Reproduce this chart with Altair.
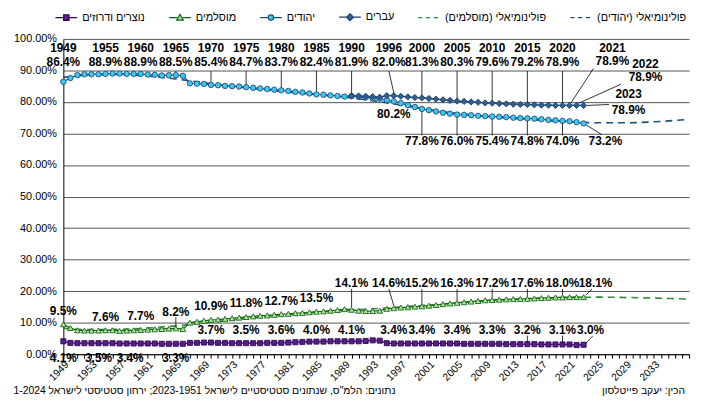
import altair as alt
import pandas as pd

# ---------------- data ----------------
years = list(range(1949, 2024))
jews = [86.4, 87.6, 88.5, 88.8, 88.8, 88.8, 88.9, 89.0, 89.0, 88.9,
        88.9, 88.9, 88.7, 88.6, 88.4, 88.5, 88.5, 88.3, 85.9, 85.8,
        85.7, 85.4, 85.3, 85.1, 85.0, 84.9, 84.7, 84.5, 84.3, 84.1,
        83.9, 83.7, 83.5, 83.2, 83.0, 82.7, 82.4, 82.3, 82.1, 81.9,
        81.7, 81.9, 81.6, 81.4, 81.2, 81.0, 80.6, 80.2, 79.6, 79.0,
        78.4, 77.8, 77.4, 77.0, 76.6, 76.3, 76.0, 75.9, 75.8, 75.6,
        75.5, 75.4, 75.3, 75.2, 75.0, 74.9, 74.8, 74.7, 74.5, 74.3,
        74.2, 74.0, 73.9, 73.6, 73.2]
hebrews_years = list(range(1990, 2024))
hebrews = [81.9, 81.9, 81.8, 81.7, 81.5, 82.0, 82.0, 81.8, 81.6, 81.4,
           81.3, 81.1, 80.9, 80.7, 80.5, 80.3, 80.2, 80.0, 79.9, 79.7,
           79.6, 79.5, 79.4, 79.3, 79.2, 79.2, 79.1, 79.0, 79.0, 78.9,
           78.9, 78.9, 78.9, 78.9]
muslims = [9.5, 8.3, 7.6, 7.5, 7.5, 7.5, 7.6, 7.6, 7.4, 7.5,
           7.6, 7.7, 7.8, 7.9, 8.0, 8.1, 8.2, 8.0, 10.0, 10.3,
           10.6, 10.9, 11.0, 11.2, 11.4, 11.6, 11.8, 12.0, 12.2, 12.3,
           12.5, 12.7, 12.8, 13.0, 13.1, 13.3, 13.5, 13.6, 13.8, 14.0,
           14.3, 14.1, 13.8, 13.7, 13.7, 13.8, 14.4, 14.6, 14.8, 14.9,
           15.1, 15.2, 15.4, 15.6, 15.9, 16.1, 16.3, 16.5, 16.7, 16.9,
           17.1, 17.2, 17.3, 17.4, 17.5, 17.5, 17.6, 17.7, 17.8, 17.9,
           18.0, 18.0, 18.1, 18.1, 18.1]
christians = [4.1, 3.6, 3.5, 3.5, 3.5, 3.5, 3.5, 3.5, 3.4, 3.4,
              3.4, 3.4, 3.4, 3.4, 3.3, 3.3, 3.3, 3.3, 3.6, 3.6,
              3.7, 3.7, 3.6, 3.6, 3.5, 3.5, 3.5, 3.5, 3.5, 3.6,
              3.6, 3.6, 3.7, 3.8, 3.9, 4.0, 4.0, 4.0, 4.1, 4.1,
              4.1, 4.1, 4.1, 4.2, 4.4, 4.3, 3.5, 3.4, 3.4, 3.4,
              3.4, 3.4, 3.4, 3.4, 3.4, 3.4, 3.4, 3.3, 3.3, 3.3,
              3.3, 3.3, 3.3, 3.2, 3.2, 3.2, 3.2, 3.2, 3.1, 3.1,
              3.1, 3.1, 3.1, 2.9, 3.0]

trend_years = [1949, 1953, 1957, 1961, 1965, 1969, 1973, 1977, 1981, 1985, 1989, 1993,
               1997, 2001, 2005, 2009, 2013, 2017, 2021, 2025, 2029, 2033, 2038]
trend_jews = [87.8, 88.6, 88.7, 88.2, 87.3, 86.1, 85.0, 84.0, 83.1, 82.3, 81.5, 80.4,
              79.0, 77.6, 76.4, 75.5, 74.8, 74.2, 73.7, 73.4, 73.4, 73.7, 74.5]
trend_muslims = [8.2, 7.8, 7.9, 8.3, 9.0, 9.9, 10.9, 11.8, 12.6, 13.3, 13.9, 14.4,
                 15.0, 15.6, 16.3, 16.9, 17.4, 17.8, 18.0, 18.1, 18.0, 17.8, 17.5]

# labelled points
top_years = [1949, 1955, 1960, 1965, 1970, 1975, 1980, 1985, 1990, 1996, 2000, 2005, 2010, 2015, 2020]
top_values = [86.4, 88.9, 88.9, 88.5, 85.4, 84.7, 83.7, 82.4, 81.9, 82.0, 81.3, 80.3, 79.6, 79.2, 78.9]
end_years = [2021, 2022, 2023]
end_values = [78.9, 78.9, 78.9]
jl_years = [1996, 2000, 2005, 2010, 2015, 2020, 2023]
jl_values = [80.2, 77.8, 76.0, 75.4, 74.8, 74.0, 73.2]
m_years = [1949, 1955, 1960, 1965, 1970, 1975, 1980, 1985, 1990, 1996, 2000, 2005, 2010, 2015, 2020, 2023]
m_values = [9.5, 7.6, 7.7, 8.2, 10.9, 11.8, 12.7, 13.5, 14.1, 14.6, 15.2, 16.3, 17.2, 17.6, 18.0, 18.1]
c_years = [1949, 1955, 1960, 1965, 1970, 1975, 1980, 1985, 1990, 1996, 2000, 2005, 2010, 2015, 2020, 2023]
c_values = [4.1, 3.5, 3.4, 3.3, 3.7, 3.5, 3.6, 4.0, 4.1, 3.4, 3.4, 3.4, 3.3, 3.2, 3.1, 3.0]

N_CD = "נוצרים ודרוזים"
N_MU = "מוסלמים"
N_JE = "יהודים"
N_HE = "עברים"
N_TM = "פולינומיאלי (מוסלמים)\u200f"
N_TJ = "פולינומיאלי (יהודים)\u200f"
legend_names = [N_CD, N_MU, N_JE, N_HE, N_TM, N_TJ]

footer_left = "\u200fנתונים: הלמ\"ס, שנתונים סטטיסטיים לישראל 2023-1951; ירחון סטטיסטי לישראל 1-2024\u200f"
footer_right = "\u200fהכין: יעקב פייטלסון\u200f"

# ---------------- tables ----------------
def series_df(xs, vs):
    return pd.DataFrame({"year": xs, "value": [v / 100 for v in vs]})

df_je = series_df(years, jews)
df_he = series_df(hebrews_years, hebrews)
df_mu = series_df(years, muslims)
df_cd = series_df(years, christians)
df_tj = series_df(trend_years, trend_jews)
df_tm = series_df(trend_years, trend_muslims)

FONT = "Liberation Sans"
W, H = 633, 319

xs = alt.Scale(domain=[1949, 2038], nice=False, zero=False)
ys = alt.Scale(domain=[0, 1], nice=False)
x_axis = alt.Axis(values=list(range(1949, 2039)), format="d",
                  labelExpr="((datum.value - 1949) % 4 == 0 && datum.value <= 2033) ? datum.label : ''",
                  labelAngle=315, labelAlign="right", labelBaseline="top",
                  labelFontSize=10.5, tickSize=4, tickColor="#000",
                  domainColor="#000", grid=False, labelPadding=1, labelOverlap=False,
                  labelBound=False, labelFlush=False, title=None)
y_axis = alt.Axis(values=[i / 10 for i in range(11)], format=".2%", labelFontSize=11,
                  grid=True, gridColor="#555", gridWidth=1, tickSize=0, labelPadding=7,
                  domainColor="#000", title=None)

X = alt.X("year:Q", scale=xs, axis=x_axis)
Y = alt.Y("value:Q", scale=ys, axis=y_axis)


def line_pts(df, line_color, fill, stroke, shape, size):
    base = alt.Chart(df).encode(x=X, y=Y)
    ln = base.mark_line(color=line_color, strokeWidth=1.3)
    pt = base.mark_point(filled=True, fill=fill, stroke=stroke, strokeWidth=0.9,
                         shape=shape, size=size, opacity=1)
    return ln + pt


trend_j = alt.Chart(df_tj).mark_line(color="#1F4E79", strokeDash=[7, 5], strokeWidth=1.6,
                                     interpolate="monotone").encode(x=X, y=Y)
trend_m = alt.Chart(df_tm).mark_line(color="#2E8B3A", strokeDash=[7, 5], strokeWidth=1.6,
                                     interpolate="monotone").encode(x=X, y=Y)

cd_layer = line_pts(df_cd, "#3A1060", "#5B1A8F", "#2A0A4A", "square", 26)
mu_layer = line_pts(df_mu, "#1B5E20", "#A6F08A", "#1B5E20", "triangle-up", 34)
je_layer = line_pts(df_je, "#1F4E79", "#3CC8F0", "#1F4E79", "circle", 30)
he_layer = line_pts(df_he, "#1F3F6E", "#2F5F8F", "#1F3F6E", "diamond", 40)

# ---------------- annotations ----------------
texts = []   # (text, x, y)
leads = []   # (x, y, x2, y2)
shift_96 = -0.7
for yr, v in zip(top_years, top_values):
    lx = yr + (shift_96 if yr == 1996 else 0)
    texts.append((str(yr), lx, 97.2))
    texts.append((f"{v:.1f}%", lx, 92.8))
    if yr != 1949:
        leads.append((lx, 89.8, yr, v + 0.9))
end_pos = {2021: (2027.1, 97.2, 93.0, (2024.4, 90.6), (2021.2, 79.7)),
           2022: (2031.8, 92.0, 87.9, (2028.3, 85.6), (2022.3, 79.6)),
           2023: (2029.4, 82.4, 77.4, (2026.6, 79.2), (2023.5, 78.9))}
for yr, v in zip(end_years, end_values):
    lx, y1, y2, a, b = end_pos[yr]
    texts.append((str(yr), lx, y1))
    texts.append((f"{v:.1f}%", lx, y2))
    leads.append((a[0], a[1], b[0], b[1]))

for yr, v in zip(jl_years, jl_values):
    if yr == 1996:
        texts.append((f"{v:.1f}%", yr, 76.2))
    elif yr == 2023:
        texts.append((f"{v:.1f}%", 2026.1, 67.5))
        leads.append((2023.4, v - 0.5, 2025.6, 69.6))
    else:
        texts.append((f"{v:.1f}%", yr, 67.5))
        leads.append((yr, v - 0.8, yr, 69.4))

for yr, v in zip(m_years, m_values):
    if yr < 1990:
        ly = 13.5 if yr == 1965 else v + 4.3
        texts.append((f"{v:.1f}%", yr, ly))
        if yr == 1965:
            leads.append((yr, v + 0.8, yr, 11.7))
    elif yr == 2023:
        texts.append((f"{v:.1f}%", 2024.7, 22.6))
        leads.append((2023.3, v + 0.6, 2024.2, 20.7))
    else:
        lx = yr + (shift_96 if yr == 1996 else 0)
        texts.append((f"{v:.1f}%", lx, 22.6))
        leads.append((yr, v + 0.8, lx, 20.7))

c_shift = {1955: -1.0, 1960: -1.5}
for yr, v in zip(c_years, c_values):
    if yr < 1970:
        texts.append((f"{v:.1f}%", yr + c_shift.get(yr, 0), -1.1))
    elif yr == 2023:
        texts.append((f"{v:.1f}%", 2024.0, 7.7))
        leads.append((2023.3, v + 0.4, 2024.3, 5.8))
    else:
        texts.append((f"{v:.1f}%", yr, 7.7))
        if yr in (2015, 2020):
            leads.append((yr, v + 0.6, yr, 5.9))

df_txt = pd.DataFrame({"t": [a for a, _, _ in texts], "year": [b for _, b, _ in texts],
                       "value": [c / 100 for _, _, c in texts]})
df_lead = pd.DataFrame({"year": [a for a, _, _, _ in leads], "value": [b / 100 for _, b, _, _ in leads],
                        "year2": [c for _, _, c, _ in leads], "value2": [d / 100 for _, _, _, d in leads]})

lead_layer = alt.Chart(df_lead).mark_rule(color="#000", strokeWidth=0.8).encode(
    x=X, y=Y, x2="year2:Q", y2="value2:Q")
txt_layer = alt.Chart(df_txt).mark_text(font=FONT, fontSize=12, fontWeight="bold", color="#000",
                                        align="center", baseline="middle").encode(
    x=X, y=Y, text="t:N")

# ---------------- legend ----------------
paths = [
    "M-1,0H-0.25M0.25,0H1M-0.25,-0.25H0.25V0.25H-0.25Z",
    "M-1,0H-0.26M0.26,0H1M0,-0.3L0.3,0.22H-0.3Z",
    "M-1,0H-0.25M0.25,0H1M0.25,0A0.25,0.25,0,1,1,-0.25,0A0.25,0.25,0,1,1,0.25,0Z",
    "M-1,0H-0.32M0.32,0H1M0,-0.32L0.32,0L0,0.32L-0.32,0Z",
    "M-1,0H-0.62M-0.3,0H0.1M0.42,0H0.82",
    "M-1,0H-0.62M-0.3,0H0.1M0.42,0H0.82",
]
fills = ["#5B1A8F", "#A6F08A", "#3CC8F0", "#2F5F8F", "#2E8B3A", "#1F4E79"]
strokes = ["#2A0A4A", "#1B5E20", "#1F4E79", "#1F3F6E", "#2E8B3A", "#1F4E79"]
leg = alt.Legend(orient="none", legendX=-9, legendY=-34, direction="horizontal", columns=6,
                 title=None, symbolSize=480, symbolStrokeWidth=1.2, labelFont=FONT,
                 labelFontSize=11, labelColor="#000", labelOffset=4, columnPadding=21,
                 padding=0, symbolOpacity=1)
legend_layer = alt.Chart(pd.DataFrame({"series": legend_names})).mark_point(
    filled=True, size=20).encode(
    x=alt.value(-900), y=alt.value(-900),
    fill=alt.Fill("series:N", scale=alt.Scale(domain=legend_names, range=fills), legend=leg),
    stroke=alt.Stroke("series:N", scale=alt.Scale(domain=legend_names, range=strokes), legend=leg),
    shape=alt.Shape("series:N", scale=alt.Scale(domain=legend_names, range=paths), legend=leg),
)

# ---------------- footer ----------------
foot_l = alt.Chart(pd.DataFrame({"t": [footer_left]})).mark_text(
    font=FONT, fontSize=10.5, color="#000", align="right", baseline="middle").encode(
    text="t:N", x=alt.value(336), y=alt.value(356))
foot_r = alt.Chart(pd.DataFrame({"t": [footer_right]})).mark_text(
    font=FONT, fontSize=10.5, color="#000", align="right", baseline="middle").encode(
    text="t:N", x=alt.value(629), y=alt.value(356))

chart = alt.layer(
    trend_j, trend_m, cd_layer, mu_layer, je_layer, he_layer,
    lead_layer, txt_layer, legend_layer, foot_l, foot_r
).properties(
    width=W, height=H,
    autosize=alt.AutoSizeParams(type="none"),
    padding={"left": 56, "top": 29, "right": 4, "bottom": 40},
).configure_view(strokeWidth=0).configure_axis(
    labelFont=FONT, labelColor="#000"
)

chart.save("out.html", embed_options={"renderer": "svg", "actions": False})
